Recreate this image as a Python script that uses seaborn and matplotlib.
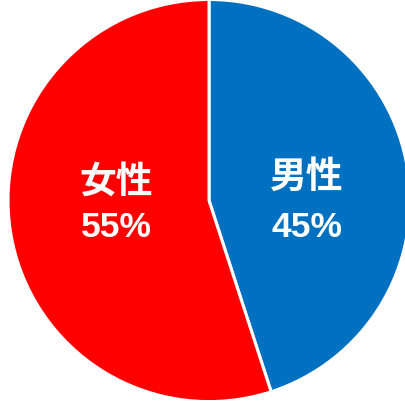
import matplotlib
matplotlib.use("Agg")
import matplotlib.pyplot as plt
import seaborn as sns

categories = ["男性", "女性"]
values = [45, 55]
colors = ["#0070C0", "#FF0000"]

sns.set_theme(style="white")
plt.rcParams['font.family'] = ['Liberation Sans', 'Noto Sans CJK JP', 'DejaVu Sans']

fig = plt.figure(figsize=(4.06, 4.05), dpi=100)
ax = fig.add_axes([0, 0, 1, 1])
wedges, _ = ax.pie(values, colors=colors, startangle=90, counterclock=False,
                   wedgeprops=dict(edgecolor="white", linewidth=2.2), radius=1.0)
ax.set_xlim(-1.040, 0.980)
ax.set_ylim(-1.017, 0.9975)
ax.set_aspect("auto")
ax.axis("off")

label_x = [0.488, -0.463]
name_y = [0.062, 0.037]
pct_y = [-0.182, -0.182]
for x, ny, py, cat, v in zip(label_x, name_y, pct_y, categories, values):
    ax.text(x, ny, cat, ha="center", va="baseline", color="white",
            fontsize=26.5, fontweight="bold")
    ax.text(x, py, f"{v}%", ha="center", va="baseline", color="white",
            fontsize=25.5, fontweight="bold")

fig.savefig("out.png", dpi=100)
